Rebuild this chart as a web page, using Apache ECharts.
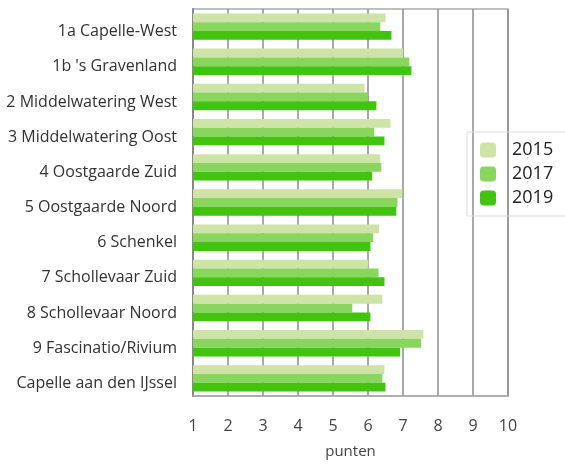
<!DOCTYPE html>
<html>
<head>
<meta charset="utf-8">
<script src="https://cdn.jsdelivr.net/npm/echarts@6/dist/echarts.min.js"></script>
<style>
  html, body { margin: 0; padding: 0; background: #fff; }
  #chart { width: 565px; height: 464px; }
</style>
</head>
<body>
<div id="chart"></div>
<script>
var wijken = [
  '1a Capelle-West',
  "1b 's Gravenland",
  '2 Middelwatering West',
  '3 Middelwatering Oost',
  '4 Oostgaarde Zuid',
  '5 Oostgaarde Noord',
  '6 Schenkel',
  '7 Schollevaar Zuid',
  '8 Schollevaar Noord',
  '9 Fascinatio/Rivium',
  'Capelle aan den IJssel'
]
var jaren = ['2015', '2017', '2019']
var score2015 = [6.5, 7.0, 5.9, 6.64, 6.35, 6.98, 6.32, 6.01, 6.41, 7.58, 6.47]
var score2017 = [6.35, 7.18, 6.0, 6.18, 6.38, 6.84, 6.15, 6.3, 5.55, 7.52, 6.41]
var score2019 = [6.67, 7.24, 6.24, 6.47, 6.12, 6.81, 6.07, 6.47, 6.07, 6.92, 6.5]
var xTicks = [1, 2, 3, 4, 5, 6, 7, 8, 9, 10]

var kleuren = ['#cde4a6', '#88d65d', '#41c30f']
var font = '"Open Sans", sans-serif'

var myChart = echarts.init(document.getElementById('chart'))
var series = [score2015, score2017, score2019].map(function (d, i) {
  return {
    name: jaren[i],
    type: 'bar',
    data: d,
    barGap: '0%',
    barCategoryGap: '25%',
    itemStyle: { color: kleuren[i] },
    z: 3
  }
})

myChart.setOption({
  animation: false,
  textStyle: { fontFamily: font },
  grid: {
    left: 193,
    top: 9,
    width: 315,
    height: 396,
    show: true,
    borderColor: '#aaa',
    borderWidth: 1.5
  },
  legend: {
    orient: 'vertical',
    left: 467,
    top: 132,
    data: jaren,
    itemWidth: 16,
    itemHeight: 15,
    itemGap: 6,
    padding: [9, 21, 9, 13],
    borderColor: '#ddd',
    borderWidth: 1,
    textStyle: { fontSize: 18, color: '#222', fontFamily: font, padding: [0, 0, 0, 11] }
  },
  xAxis: {
    type: 'value',
    min: xTicks[0],
    max: xTicks[xTicks.length - 1],
    interval: 1,
    name: 'punten',
    nameLocation: 'middle',
    nameGap: 48,
    nameTextStyle: { fontSize: 15, color: '#444' },
    axisLine: { show: true, lineStyle: { color: '#aaa', width: 1.5 } },
    axisTick: { show: false },
    axisLabel: { fontSize: 16, color: '#444', margin: 22 },
    splitLine: { show: true, lineStyle: { color: '#8c8c8c', width: 1.5 } }
  },
  yAxis: {
    type: 'category',
    inverse: true,
    data: wijken,
    axisLine: { show: true, lineStyle: { color: '#888', width: 2 } },
    axisTick: { show: false },
    axisLabel: { fontSize: 16, color: '#333', margin: 16, verticalAlign: 'top', lineHeight: 10 },
    splitLine: { show: false }
  },
  series: series
})
</script>
</body>
</html>
